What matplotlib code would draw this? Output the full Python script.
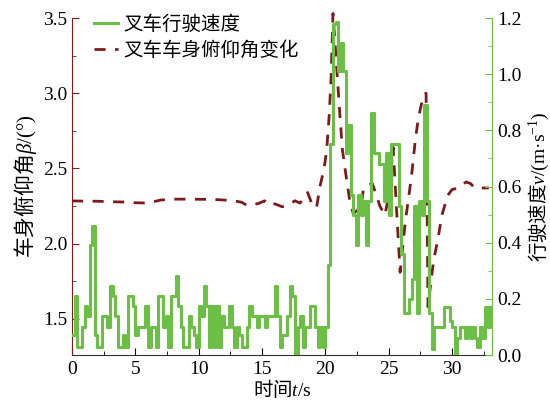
import numpy as np
import matplotlib
matplotlib.use("Agg")
import matplotlib.pyplot as plt
from matplotlib.ticker import MultipleLocator
import matplotlib.patheffects as pe

plt.rcParams["font.family"] = ["Liberation Serif", "Noto Sans CJK SC"]
# mixed CJK / latin labels go through mathtext, so map its fonts by hand
plt.rcParams["mathtext.fontset"] = "custom"
plt.rcParams["mathtext.rm"] = "Noto Sans CJK SC"
plt.rcParams["mathtext.it"] = "Liberation Serif:italic"
plt.rcParams["mathtext.sf"] = "Liberation Serif"

# forklift speed, sampled every 0.2 s (m/s)
speed_t = np.round(np.arange(0, 33.01, 0.2), 1)
speed = [
    0.07, 0.21, 0.03, 0.03, 0.10, 0.175, 0.14, 0.39, 0.46, 0.07, 0.03, 0.03,
    0.14, 0.14, 0.10, 0.245, 0.21, 0.14, 0.03, 0.03, 0.07, 0.03, 0.21, 0.21,
    0.175, 0.07, 0.10, 0.10, 0.10, 0.175, 0.03, 0.10, 0.10, 0.03,
    0.21, 0.21, 0.10, 0.14, 0.03, 0.21, 0.21, 0.28, 0.175, 0.10, 0.03, 0.03,
    0.14, 0.10, 0.07, 0.03, 0.175, 0.14, 0.245, 0.175, 0.03, 0.175, 0.03, 0.175,
    0.03, 0.14, 0.10, 0.10, 0.175, 0.10, 0.03, 0.10,
    0.07, 0.03, 0.03, 0.10, 0.175, 0.14, 0.14, 0.10, 0.14, 0.14, 0.10, 0.14,
    0.14, 0.14, 0.245, 0.14, 0.03, 0.07, 0.07, 0.14, 0.245, 0.21, 0.0, 0.10,
    0.14, 0.03, 0.10, 0.10, 0.175, 0.175, 0.10, 0.03, 0.10,
    0.03, 0.10, 0.32, 0.75, 1.18, 1.185, 1.01, 1.11, 1.01, 0.72, 0.82, 0.57,
    0.50, 0.39, 0.57, 0.50, 0.55, 0.39, 0.55, 0.86, 0.72, 0.72, 0.68, 0.68,
    0.55, 0.72, 0.50, 0.75, 0.75, 0.75, 0.53, 0.36, 0.15, 0.15, 0.20, 0.27,
    0.53, 0.15, 0.55, 0.50, 0.89, 0.55, 0.15, 0.02, 0.10, 0.10, 0.10, 0.10,
    0.17, 0.17, 0.12, 0.10, 0.0, 0.06, 0.10, 0.10, 0.06, 0.10, 0.06, 0.10,
    0.06, 0.03, 0.10, 0.06, 0.17, 0.10, 0.17,
]

# body pitch angle (deg)
beta_t = [0.0, 1.0, 2.0, 3.0, 4.0, 5.0, 6.0, 7.0, 8.0, 9.0, 10.0, 11.0, 12.0,
          12.8, 13.4, 13.8, 14.4, 14.8, 15.2, 15.6, 16.0, 16.6, 17.2, 17.6, 18.0,
          18.6, 19.0, 19.3, 19.6, 19.9, 20.1, 20.3, 20.45, 20.6, 20.75, 20.95,
          21.15, 21.35, 21.6, 21.9, 22.2, 22.5, 22.8, 23.0, 23.3, 23.7, 24.0,
          24.3, 24.7, 25.0, 25.35, 25.6, 25.9, 26.3, 26.8, 27.1, 27.35, 27.75,
          27.95, 28.1, 28.35, 28.55, 28.9, 29.2, 29.65, 30.0, 30.5, 31.1, 31.45,
          31.8, 32.2, 32.6, 32.9]
beta = [2.284, 2.283, 2.282, 2.279, 2.277, 2.272, 2.27, 2.29, 2.296, 2.296,
        2.295, 2.295, 2.29, 2.285, 2.275, 2.255, 2.26, 2.27, 2.285, 2.255,
        2.265, 2.245, 2.265, 2.285, 2.27, 2.34, 2.25, 2.24, 2.39, 2.50, 2.62,
        2.85, 3.10, 3.53, 3.35, 3.10, 2.85, 2.62, 2.47, 2.30, 2.20, 2.22, 2.24,
        2.36, 2.39, 2.40, 2.33, 2.25, 2.19, 2.32, 2.64, 2.25, 1.81, 2.14, 2.45,
        2.69, 2.84, 2.99, 3.0, 1.58, 1.76, 1.89, 2.04, 2.19, 2.32, 2.36, 2.37,
        2.41, 2.40, 2.37, 2.37, 2.37, 2.37]

green = "#6cbf45"
maroon = "#7d1a1c"
cjk = "Noto Sans CJK SC"

fig = plt.figure(figsize=(5.5, 4.01), dpi=100)
ax1 = fig.add_axes([0.1309, 0.1147, 0.7636, 0.8404])
ax2 = ax1.twinx()

l2, = ax1.plot(beta_t, beta, color=maroon, lw=2.0, dashes=(4, 3.4),
               label="叉车车身俯仰角变化", clip_on=False)
l1, = ax2.plot(speed_t, speed, color=green, lw=1.8, drawstyle="steps-post",
               label="叉车行驶速度",
               path_effects=[pe.Stroke(linewidth=2.2, foreground=green),
                             pe.Normal()])

ax1.set_xlim(0, 33.15)
ax1.set_ylim(1.26, 3.5)
ax2.set_ylim(0, 1.2)

ax1.xaxis.set_major_locator(MultipleLocator(5))
ax1.xaxis.set_minor_locator(MultipleLocator(2.5))
ax1.yaxis.set_major_locator(MultipleLocator(0.5))
ax1.yaxis.set_minor_locator(MultipleLocator(0.25))
ax2.yaxis.set_major_locator(MultipleLocator(0.2))
ax2.yaxis.set_minor_locator(MultipleLocator(0.1))

for ax in (ax1, ax2):
    ax.spines["top"].set_visible(False)
ax1.spines["right"].set_visible(False)
ax2.spines["left"].set_visible(False)
ax2.spines["bottom"].set_visible(False)
ax1.spines["left"].set_color(maroon)
ax2.spines["right"].set_color(green)
ax1.spines["bottom"].set_color("#333333")

ax1.tick_params(axis="x", which="both", direction="in", colors="black",
                labelsize=14, pad=4)
ax1.tick_params(axis="x", which="major", length=5)
ax1.tick_params(axis="x", which="minor", length=3)
ax1.tick_params(axis="y", which="both", direction="in", color=maroon,
                labelcolor="black", labelsize=14)
ax1.tick_params(axis="y", which="major", length=5)
ax1.tick_params(axis="y", which="minor", length=3)
ax2.tick_params(axis="y", which="both", direction="in", color=green,
                labelcolor="black", labelsize=14)
ax2.tick_params(axis="y", which="major", length=5)
ax2.tick_params(axis="y", which="minor", length=3)

ax1.set_xticklabels([f"{v:g}" for v in ax1.get_xticks()])
ax1.set_xlabel("时间$t\\mathsf{/s}$", fontsize=14, family=cjk, labelpad=0)
ax1.set_ylabel("车身俯仰角$\\beta\\mathsf{/(°)}$", fontsize=15, family=cjk,
               labelpad=3)
ax2.set_ylabel("行驶速度$v\\mathsf{/(m·s}^{\\mathsf{-1}}\\mathsf{)}$",
               fontsize=14, family=cjk, labelpad=4)

leg = ax1.legend(handles=[l1, l2], loc="upper left",
                 bbox_to_anchor=(0.03, 1.04), frameon=False, borderpad=0,
                 handlelength=1.2, handletextpad=0.3, labelspacing=0.25,
                 prop={"family": cjk, "size": 14})

fig.savefig("out.png", dpi=100)
